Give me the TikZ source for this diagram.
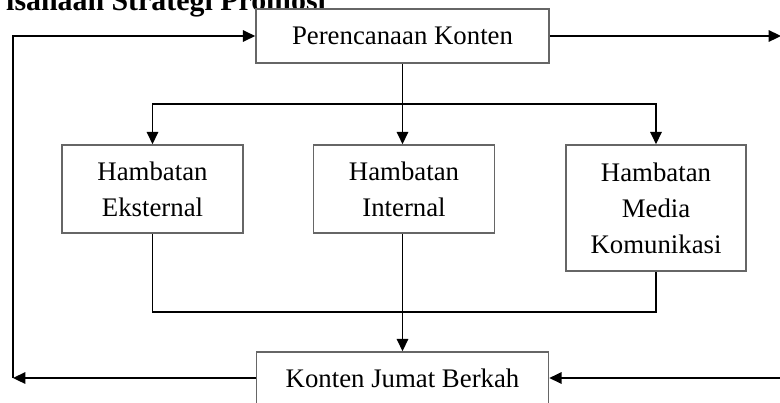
\documentclass[tikz,border=0pt]{standalone}
\usepackage{fontspec}
\setmainfont{Liberation Serif}
\usetikzlibrary{arrows.meta}
\tikzset{
    block/.style={draw=black!60, line width=0.9pt, fill=white, align=center, inner sep=0pt},
    edge/.style={-{Triangle[length=7pt,width=6.5pt]}, line width=1pt},
    wire/.style={line width=1pt}
}

\begin{document}
\begin{tikzpicture}[font=\fontsize{15.25}{20.5}\selectfont]
\useasboundingbox (0,0) rectangle (15.6,8.04);
\node[anchor=base west, font=\fontsize{17}{20}\selectfont\bfseries] (title) at (0,7.84) {isanaan Strategi Promosi};

\node[block, minimum width=5.86cm, minimum height=1.08cm] (plan) at (8.05,7.32) {Perencanaan Konten};
\node[block, minimum width=3.62cm, minimum height=1.76cm] (hext) at (3.05,4.26) {Hambatan\\Eksternal};
\node[block, minimum width=3.62cm, minimum height=1.76cm] (hint) at (8.08,4.26) {Hambatan\\Internal};
\node[block, minimum width=3.60cm, minimum height=2.52cm] (hmed) at (13.12,3.88) {Hambatan\\Media\\Komunikasi};
\node[block, minimum width=5.84cm, minimum height=1.04cm] (jumat) at (8.05,0.48) {Konten Jumat Berkah};

\coordinate (split) at (8.05,5.96);
\coordinate (join) at (8.05,1.80);
\coordinate (loopb) at (0.26,0.48);
\coordinate (loopt) at (0.26,7.32);
\coordinate (outr) at (15.62,7.32);
\coordinate (inr) at (15.62,0.48);

% from the plan down to the three obstacles
\draw[wire] (plan.south) -- (split);
\draw[edge] (split) -- (split |- hint.north);
\draw[edge] (split) -| (hext.north);
\draw[edge] (split) -| (hmed.north);

% obstacles into the content
\draw[wire] (hext.south) |- (join) -| (hmed.south);
\draw[edge] (hint.south -| join) -- (jumat.north -| join);

% feedback loop and side arrows
\draw[edge] (jumat.west) -- (loopb);
\draw[edge] (loopb) -- (loopt) -- (plan.west);
\draw[edge] (plan.east) -- (outr);
\draw[edge] (inr) -- (jumat.east);

\end{tikzpicture}
\end{document}
